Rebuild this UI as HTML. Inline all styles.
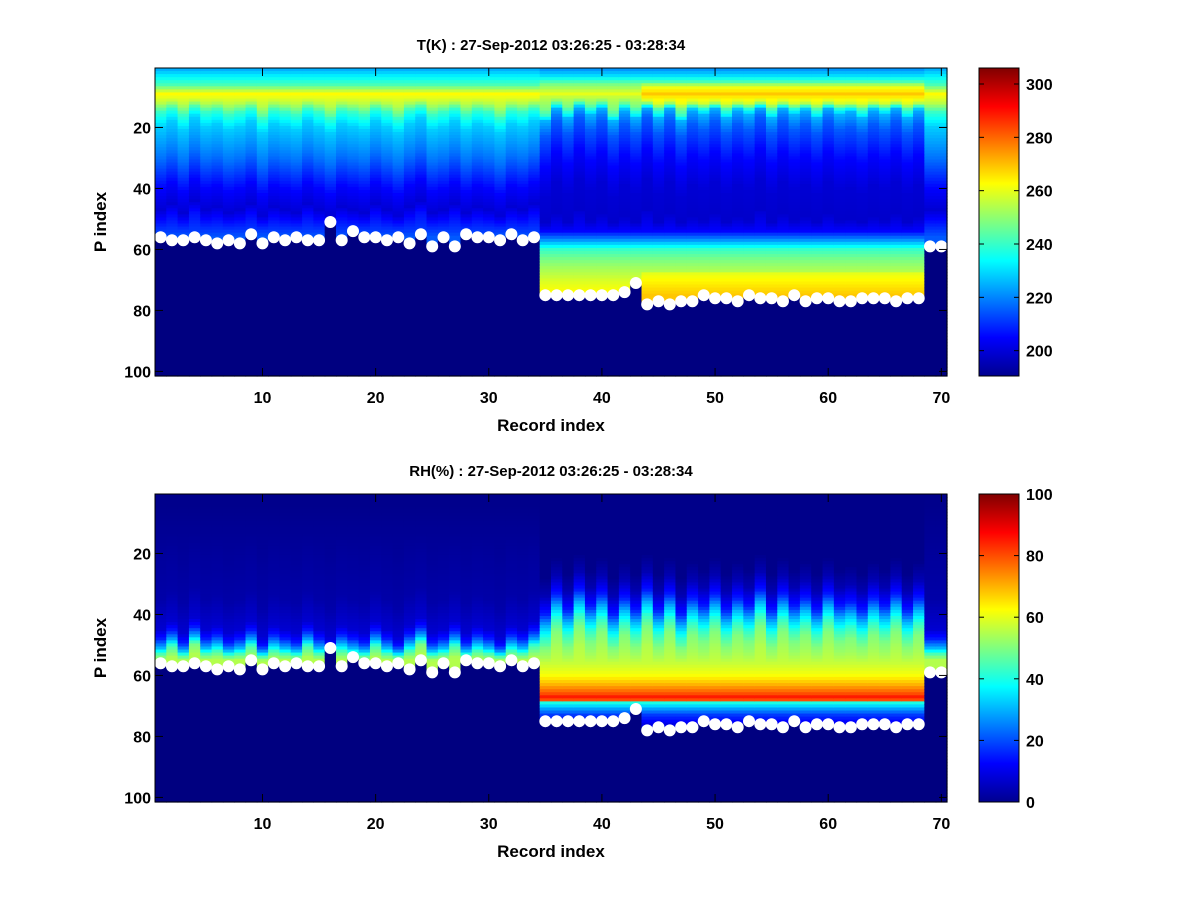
<!DOCTYPE html>
<html><head><meta charset="utf-8">
<style>
body{margin:0;background:#fff;}
svg text{font-family:"Liberation Sans",sans-serif;font-weight:bold;}
</style></head>
<body>
<svg id="fig" width="1200" height="900" xmlns="http://www.w3.org/2000/svg">
<defs>
<linearGradient id="jet" x1="0" y1="1" x2="0" y2="0">
<stop offset="0" stop-color="#00008f"/><stop offset="0.125" stop-color="#0000ff"/>
<stop offset="0.375" stop-color="#00ffff"/><stop offset="0.625" stop-color="#ffff00"/>
<stop offset="0.875" stop-color="#ff0000"/><stop offset="1" stop-color="#800000"/>
</linearGradient>
</defs>
</svg>
<script>
// ---- data ----
const records = Array.from({length:70},(_,i)=>i+1);
const surface = [56,57,57,56,57,58,57,58,55,58,56,57,56,57,57,51,57,54,56,56,57,56,58,55,59,56,59,55,56,56,57,55,57,56,
75,75,75,75,75,75,75,74,71,78,77,78,77,77,75,76,76,77,75,76,76,77,75,77,76,76,77,77,76,76,76,77,76,76,59,59];
// per-record profile shift in levels (estimated)
const colOffset = [0,2,-1,3,0,1,-1,0,2,-2,1,0,-1,2,0,-2,1,0,-1,2,0,-2,1,3,-1,0,2,-1,1,0,-2,1,0,2,
-3,2,-2,3,-1,2,-3,1,-2,3,-2,2,-3,1,-1,2,-2,1,-1,3,-2,2,-1,1,-2,2,-1,0,-2,1,-1,2,-2,1,0,0];
const tLeftLev  = [1,3,6,9,12,15,20,30,40,47,53,56,101];
const tLeftVal  = [225,232,242,263,255,240,228,218,205,200,210,215,215];
const tRightLev = [1,3,6,9,12,15,20,30,40,50,54,57,60,63,66,70,75,101];
const tRightVal = [222,230,248,260,248,225,215,205,200,199,205,222,240,247,252,258,264,264];
const rhLeftLev = [1,35,45,48,51,53,55,101];
const rhLeftVal = [1,4,8,15,30,45,55,55];
const rhRightLev= [1,24,30,36,40,44,48,52,56,60,63,66,67,68,69,71,73,76,101];
const rhRightVal= [1,1,5,15,30,42,50,53,57,62,70,80,85,80,40,28,18,10,10];
const tTicks = [200,220,240,260,280,300];
const rhTicks = [0,20,40,60,80,100];
const xTicks = [10,20,30,40,50,60,70];
const yTicks = [20,40,60,80,100];

const NS="http://www.w3.org/2000/svg";
const svg=document.getElementById('fig');
function mk(tag,attrs,parent){const e=document.createElementNS(NS,tag);for(const k in attrs)e.setAttribute(k,attrs[k]);(parent||svg).appendChild(e);return e;}
function jet(t){t=Math.max(0,Math.min(1,t));
 const f=(x)=>Math.max(0,Math.min(1,x));
 const r=f(Math.min(4*t-1.5,-4*t+4.5)),g=f(Math.min(4*t-0.5,-4*t+3.5)),b=f(Math.min(4*t+0.5,-4*t+2.5));
 return `rgb(${Math.round(r*255)},${Math.round(g*255)},${Math.round(b*255)})`;}
function prof(lev,val,p){if(p<=lev[0])return val[0];for(let i=0;i<lev.length-1;i++){if(p<=lev[i+1]){const fr=(p-lev[i])/(lev[i+1]-lev[i]);return val[i]*(1-fr)+val[i+1]*fr;}}return val[val.length-1];}
function win(p,a,b,f){if(p<a-f||p>b+f)return 0;if(p<a)return (p-(a-f))/f;if(p>b)return ((b+f)-p)/f;return 1;}

function panel(cfg){
 const L=155,R=947,T=cfg.top,B=cfg.top+308;
 const xs=r=>L+(r-0.5)/70*(R-L);
 const ys=p=>T+(p-0.5)/101*(B-T);
 const g=mk('g',{});
 
 
 for(let r=1;r<=70;r++){
  const s=surface[r-1]; const right=(r>=35&&r<=68);
  for(let p=1;p<=101;p++){
   let v=cfg.value(r,p,s,right);
   const c=mk('rect',{x:xs(r-0.5).toFixed(2),y:ys(p-0.5).toFixed(2),width:(xs(1.5)-xs(0.5)+0.6).toFixed(2),height:(ys(1.5)-ys(0.5)+0.6).toFixed(2),fill:jet((v-cfg.cmin)/(cfg.cmax-cfg.cmin))},g);
   
   
  }
 }
 for(let r=1;r<=70;r++){
  const d=mk('circle',{cx:xs(r),cy:ys(surface[r-1]),r:6,fill:'#fff'});
  
  
 }
 const box=mk('rect',{x:L,y:T,width:R-L,height:B-T,fill:'none',stroke:'#000','stroke-width':1});
 
 
 xTicks.forEach(v=>{const x=xs(v);
  mk('line',{x1:x,y1:B,x2:x,y2:B-8,stroke:'#000'});mk('line',{x1:x,y1:T,x2:x,y2:T+8,stroke:'#000'});
  const t=mk('text',{x:x,y:B+27,'text-anchor':'middle','font-size':16});t.textContent=v;
  });
 yTicks.forEach(v=>{const y=ys(v);
  mk('line',{x1:L,y1:y,x2:L+8,y2:y,stroke:'#000'});mk('line',{x1:R,y1:y,x2:R-8,y2:y,stroke:'#000'});
  const t=mk('text',{x:L-4,y:y+6,'text-anchor':'end','font-size':16});t.textContent=v;
  });
 const ti=mk('text',{x:551,y:T-18,'text-anchor':'middle','font-size':15});ti.textContent=cfg.title;
 
 const xl=mk('text',{x:551,y:B+55,'text-anchor':'middle','font-size':17});xl.textContent='Record index';
 
 const yl=mk('text',{x:0,y:0,'text-anchor':'middle','font-size':17,transform:`translate(106,${(T+B)/2}) rotate(-90)`});yl.textContent='P index';
 
 const cb=mk('rect',{x:979,y:T,width:40,height:B-T,fill:'url(#jet)',stroke:'#000'});
 
 cfg.ticks.forEach(v=>{const y=B-(v-cfg.cmin)/(cfg.cmax-cfg.cmin)*(B-T);
  mk('line',{x1:979,y1:y,x2:984,y2:y,stroke:'#000'});mk('line',{x1:1019,y1:y,x2:1014,y2:y,stroke:'#000'});
  const t=mk('text',{x:1026,y:y+6,'font-size':16});t.textContent=v;
  });
}

panel({name:'temperature',top:68,cmin:190.5,cmax:306,ticks:tTicks,title:'T(K) : 27-Sep-2012 03:26:25 - 03:28:34',
 value:(r,p,s,right)=>{ if(p>s) return 190.5;
   const q=p+colOffset[r-1]*1.0*win(p,16,48,6);
   let v=right?prof(tRightLev,tRightVal,q):prof(tLeftLev,tLeftVal,q);
   if(r>=44&&r<=68) v+=9*win(p,7,12,2);
   if(r>=44&&r<=68&&p>=68) v+=5;
   return v;}});
panel({name:'humidity',top:494,cmin:0,cmax:100,ticks:rhTicks,title:'RH(%) : 27-Sep-2012 03:26:25 - 03:28:34',
 value:(r,p,s,right)=>{ if(p>s) return 0;
   const q=p+colOffset[r-1]*1.3*win(p,20,50,6);
   let v=right?prof(rhRightLev,rhRightVal,q):prof(rhLeftLev,rhLeftVal,q);
   return Math.max(0,v);}});
</script>
</body></html>
